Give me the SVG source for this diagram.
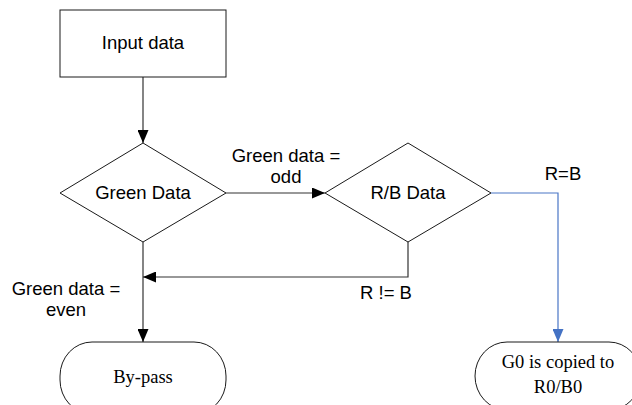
<svg xmlns="http://www.w3.org/2000/svg" width="632" height="405" viewBox="0 0 632 405">
<style>
.shape{fill:#ffffff;stroke:#1a1a1a;stroke-width:1}
.conn{fill:none;stroke:#333333;stroke-width:1.2}
.blue{fill:none;stroke:#4a76c6;stroke-width:1.2}
.sans{font-family:"Liberation Sans",Arial,sans-serif;font-size:18.5px;fill:#000;text-anchor:middle}
.serif{font-family:"Liberation Serif","Times New Roman",serif;font-size:18.5px;fill:#000;text-anchor:middle}
</style>
<defs>
<marker id="ah" markerUnits="userSpaceOnUse" markerWidth="13" markerHeight="11" refX="13" refY="5.5" orient="auto">
<path d="M0,0 L13,5.5 L0,11 z" fill="#000"/>
</marker>
<marker id="ahb" markerUnits="userSpaceOnUse" markerWidth="13" markerHeight="11" refX="13" refY="5.5" orient="auto">
<path d="M0,0 L13,5.5 L0,11 z" fill="#4472c4"/>
</marker>
</defs>
<rect width="632" height="405" fill="#ffffff"/>
<g id="connectors">
<path class="conn" d="M143,77 L143,143" marker-end="url(#ah)"/>
<path class="conn" d="M226,193 L325,193" marker-end="url(#ah)"/>
<path class="conn" d="M143,242 L143,342" marker-end="url(#ah)"/>
<path class="conn" d="M408,242 L408,277 L143,277" marker-end="url(#ah)"/>
<path class="blue" d="M491,193 L558,193 L558,342" marker-end="url(#ahb)"/>
<text class="sans" x="286" y="162">Green data =</text>
<text class="sans" x="286" y="183">odd</text>
<text class="sans" x="563" y="180">R=B</text>
<text class="sans" x="386" y="299">R != B</text>
<text class="sans" x="66" y="295">Green data =</text>
<text class="sans" x="66" y="316">even</text>
</g>
<g id="input">
<rect class="shape" x="60" y="10" width="166" height="67"/>
<text class="sans" x="143" y="49">Input data</text>
</g>
<g id="green">
<path class="shape" d="M143,143 L226,193 L143,242 L60,193 z"/>
<text class="sans" x="143" y="199">Green Data</text>
</g>
<g id="rb">
<path class="shape" d="M408,143 L491,193 L408,242 L325,193 z"/>
<text class="sans" x="408" y="199">R/B Data</text>
</g>
<g id="bypass">
<rect class="shape" x="60" y="342" width="166" height="72" rx="32" ry="34"/>
<text class="serif" x="143" y="383">By-pass</text>
</g>
<g id="copy">
<rect class="shape" x="475" y="342" width="166" height="68" rx="32" ry="34"/>
<text class="serif" x="558" y="368">G0 is copied to</text>
<text class="serif" x="558" y="393">R0/B0</text>
</g>
</svg>
